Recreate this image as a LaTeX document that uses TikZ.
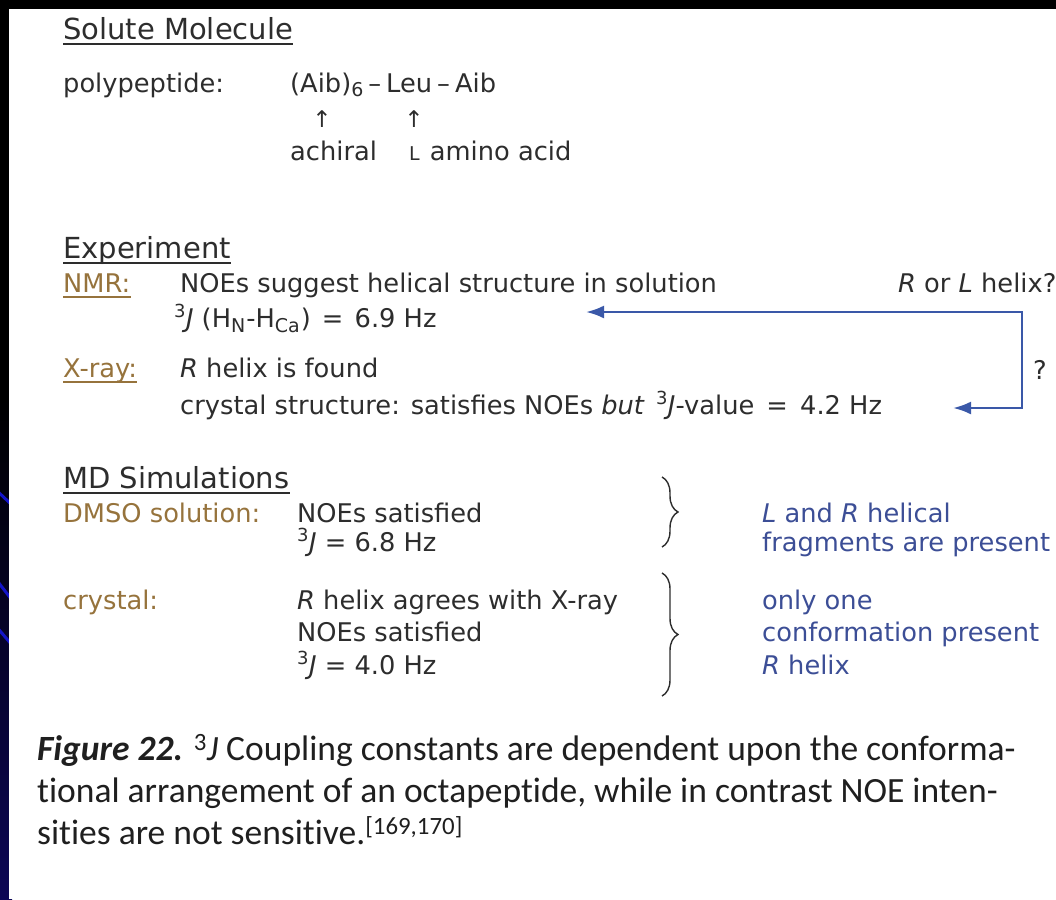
\documentclass[tikz,border=0pt]{standalone}
\usepackage{fontspec}
\setmainfont{DejaVu Sans}
\newfontfamily\capfont[Ligatures=NoCommon]{Carlito}
\usetikzlibrary{arrows.meta,decorations.pathreplacing}
\definecolor{txt}{RGB}{45,45,45}
\definecolor{goldc}{RGB}{150,115,60}
\definecolor{bluec}{RGB}{60,78,150}
\definecolor{arrowc}{RGB}{58,88,168}
\definecolor{navyc}{RGB}{12,6,85}
\definecolor{linec}{RGB}{20,20,200}
\newcommand{\sJ}{\textsuperscript{3}\textit{J}}
\newcommand{\mysub}[1]{\raisebox{-5pt}{\fontsize{19}{19}\selectfont #1}}
\tikzset{
  x=1pt, y=-1pt,
  body/.style={anchor=base west, inner sep=0pt, text=txt, font=\fontsize{25.7}{30}\selectfont},
  head/.style={body, font=\fontsize{29}{34}\selectfont},
  goldlbl/.style={body, text=goldc},
  bluetxt/.style={body, text=bluec},
  ul/.style={line width=1.8pt, draw=txt},
  goldul/.style={line width=1.8pt, draw=goldc},
  conn/.style={draw=arrowc, line width=2.6pt, {Latex[length=18pt,width=13pt]}-{Latex[length=18pt,width=13pt]}},
  bracestyle/.style={decorate, decoration={brace, amplitude=16pt}, draw=txt, line width=1.4pt},
  uparr/.style={anchor=center, inner sep=0pt, text=txt, font=\fontsize{23}{23}\selectfont},
  captext/.style={anchor=base west, inner sep=0pt, text=black!88, font=\capfont\fontsize{35.5}{40}\selectfont},
  bgline/.style={draw=linec, line width=3pt}
}
\begin{document}
\begin{tikzpicture}
\useasboundingbox (0,0) rectangle (1056,899);
% background
\fill[black] (0,0) rectangle (1056,899);
\shade[top color=black, bottom color=navyc] (0,400) rectangle (12,899);
\draw[bgline] (-5,489) -- (12,505);
\draw[bgline] (-5,578) -- (12,600);
\draw[bgline] (-5,625) -- (12,645);
\fill[white] (9,9) rectangle (1056,899);

% Solute molecule
\node[head] (tsolute) at (63,40) {Solute Molecule};
\draw[ul] ([yshift=-4pt]tsolute.base west) -- ([yshift=-4pt]tsolute.base east);
\node[body] (tpoly) at (63,92) {polypeptide:};
\node[body] (taib) at (290,92) {(Aib)\mysub{6}\hspace{5pt}–\hspace{5pt}Leu\hspace{5pt}–\hspace{5pt}Aib};
\node[uparr] (arr1) at (322,119) {↑};
\node[uparr] (arr2) at (414,119) {↑};
\node[body] (tachiral) at (290,160) {achiral};
\node[body] (tlamino) at (409,160) {{\fontsize{19}{19}\selectfont L}\hspace{2pt} amino acid};

% Experiment
\node[head] (texp) at (63,258) {Experiment};
\draw[ul] ([yshift=-5pt]texp.base west) -- ([yshift=-5pt]texp.base east);
\node[goldlbl] (tnmr) at (63,292) {NMR:};
\draw[goldul] ([yshift=-5pt]tnmr.base west) -- ([yshift=-5pt]tnmr.base east);
\node[body] (tnoe) at (180,292) {NOEs suggest helical structure in solution};
\node[body] (trl) at (898,292) {\textit{R} or \textit{L} helix?};
\node[body] (tj69) at (174,327) {\sJ\hspace{8pt}(H\mysub{N}\hspace{1pt}-H\mysub{Ca}\hspace{1pt}) \hspace{3pt}=\hspace{3pt} 6.9 Hz};
\node[goldlbl] (txray) at (63,377) {X-ray:};
\draw[goldul] ([yshift=-5pt]txray.base west) -- ([yshift=-5pt]txray.base east);
\node[body] (trfound) at (180,377) {\textit{R} helix is found};
\node[body] (tcrys) at (180,414) {crystal structure: satisfies NOEs \textit{but}\hspace{3pt} \sJ-value\hspace{4pt} =\hspace{4pt} 4.2 Hz};
\node[body, anchor=center] (tq) at (1040,370) {?};
\coordinate (a1) at (586,312);
\coordinate (c1) at (1022,312);
\coordinate (c2) at (1022,408);
\coordinate (a2) at (953,408);
\draw[conn] (a1) -- (c1) -- (c2) -- (a2);

% MD simulations
\node[head] (tmd) at (63,488) {MD Simulations};
\draw[ul] ([yshift=-5pt]tmd.base west) -- ([yshift=-5pt]tmd.base east);
\node[goldlbl] (tdmso) at (63,522) {DMSO solution:};
\node[body] (tnoe2) at (297,522) {NOEs satisfied};
\node[body] (tj68) at (297,551) {\sJ{} = 6.8 Hz};
\coordinate (b1t) at (662,477);
\coordinate (b1b) at (662,547);
\draw[bracestyle] (b1t) -- (b1b);
\node[bluetxt] (tlr) at (762,522) {\textit{L} and \textit{R} helical};
\node[bluetxt] (tfrag) at (762,551) {fragments are present};

\node[goldlbl] (tcryst) at (63,609) {crystal:};
\node[body] (tragree) at (297,609) {\textit{R} helix agrees with X-ray};
\node[body] (tnoe3) at (297,641) {NOEs satisfied};
\node[body] (tj40) at (297,674) {\sJ{} = 4.0 Hz};
\coordinate (b2t) at (662,573);
\coordinate (b2b) at (662,696);
\draw[bracestyle] (b2t) -- (b2b);
\node[bluetxt] (tone) at (762,609) {only one};
\node[bluetxt] (tconf) at (762,641) {conformation present};
\node[bluetxt] (trhelix) at (762,674) {\textit{R} helix};

% caption
\node[captext] (cap1) at (37,760) {{\bfseries\itshape Figure 22.} \textsuperscript{3}\textit{J} Coupling constants are dependent upon the conforma-};
\node[captext] (cap2) at (37,802) {tional arrangement of an octapeptide, while in contrast NOE inten-};
\node[captext] (cap3) at (37,844) {sities are not sensitive.\textsuperscript{[169,170]}};
\end{tikzpicture}
\end{document}
